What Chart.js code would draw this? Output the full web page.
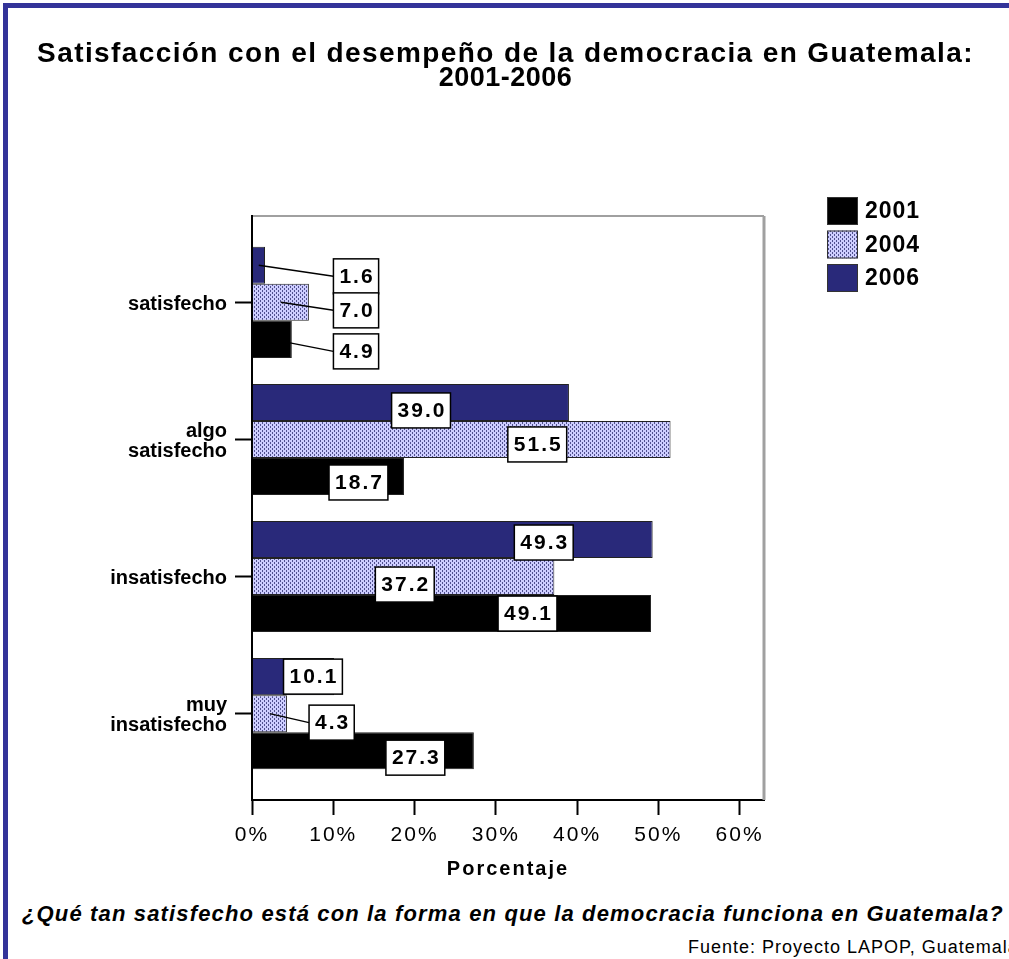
<!DOCTYPE html>
<html>
<head>
<meta charset="utf-8">
<title>Satisfacción con la democracia en Guatemala</title>
<script src="https://cdn.jsdelivr.net/npm/chart.js@4.4.1/dist/chart.umd.min.js"></script>
<style>
  html, body { margin: 0; padding: 0; background: #fff; overflow: hidden; }
  body { width: 1009px; height: 959px; position: relative; color: #000;
         font-family: "Liberation Sans", Arial, sans-serif; }
  #frame { position: absolute; left: 3px; top: 3px; width: 1030px; height: 980px;
           border-left: 5px solid #333399; border-top: 5px solid #333399; }
  #wrap { position: absolute; left: 0; top: 0; width: 1009px; height: 890px; }
  #title { position: absolute; left: 0; top: 41px; width: 1011px; text-align: center;
           font-weight: bold; font-size: 28px; line-height: 24px; }
  #title .l1 { letter-spacing: 1.4px; }
  #title .l2 { font-size: 27px; letter-spacing: 0.5px; }
  #question { position: absolute; left: 22px; top: 901px; white-space: nowrap;
              font: italic bold 22px "Liberation Sans", Arial, sans-serif; letter-spacing: 1.15px; }
  #source { position: absolute; left: 688px; top: 937px; white-space: nowrap;
            font: 18px "Liberation Sans", Arial, sans-serif; letter-spacing: 1px; }
</style>
</head>
<body>
<div id="frame"></div>
<div id="wrap"><canvas id="chart"></canvas></div>
<div id="title"><span class="l1">Satisfacción con el desempeño de la democracia en Guatemala:</span><br><span class="l2">2001-2006</span></div>
<div id="question">¿Qué tan satisfecho está con la forma en que la democracia funciona en Guatemala?</div>
<div id="source">Fuente: Proyecto LAPOP, Guatemala</div>
<script>
const categories = ['satisfecho', 'algo satisfecho', 'insatisfecho', 'muy insatisfecho'];
const years = ['2001', '2004', '2006'];
const values2001 = [4.9, 18.7, 49.1, 27.3];
const values2004 = [7.0, 51.5, 37.2, 4.3];
const values2006 = [1.6, 39.0, 49.3, 10.1];
const xTickValues = [0, 10, 20, 30, 40, 50, 60];

// where each value box sits: centre on the % axis, and a small drop in px
const labelAt2001 = [12.8, 13.1, 33.9, 20.1];
const labelAt2004 = [12.8, 35.1, 18.8, 9.8];
const labelAt2006 = [12.8, 20.8, 35.9, 7.5];
const labelDy2001 = [12, 6, 0, 7];
const labelDy2004 = [8, 5, 8, 9];
const labelDy2006 = [11, 8, 3, 0];

const FONT = '"Liberation Sans", Arial, sans-serif';
Chart.defaults.font.family = FONT;
Chart.defaults.color = '#000';

function dotPattern() {
  const tile = document.createElement('canvas');
  tile.width = 4;
  tile.height = 4;
  const t = tile.getContext('2d');
  t.fillStyle = '#cdcdff';
  t.fillRect(0, 0, 4, 4);
  t.fillStyle = '#50508e';
  t.fillRect(0, 0, 1, 2);
  t.fillRect(2, 2, 1, 2);
  return t.createPattern(tile, 'repeat');
}

const toPoints = vals => vals.map((v, i) => ({ x: v, y: i }));

// grey top/right frame of the plot; spaced text for the x axis, plain for the y labels
const plotFrame = {
  id: 'plotFrame',
  beforeDraw(chart) {
    chart.ctx.letterSpacing = '2px';
  },
  afterDatasetsDraw(chart) {
    const { ctx, chartArea: a } = chart;
    ctx.save();
    ctx.strokeStyle = '#a0a0a0';
    ctx.lineWidth = 2;
    ctx.beginPath();
    ctx.moveTo(a.left, a.top);
    ctx.lineTo(a.right, a.top);
    ctx.stroke();
    ctx.lineWidth = 3;
    ctx.beginPath();
    ctx.moveTo(a.right, a.top);
    ctx.lineTo(a.right, a.bottom);
    ctx.stroke();
    ctx.restore();
    ctx.letterSpacing = '0px';
  }
};

const valueBoxes = {
  id: 'valueBoxes',
  afterDraw(chart) {
    const ctx = chart.ctx;
    const xs = chart.scales.x;
    ctx.save();
    ctx.font = 'bold 21px ' + FONT;
    ctx.letterSpacing = '2px';
    ctx.textAlign = 'center';
    ctx.textBaseline = 'middle';
    chart.data.datasets.forEach((ds, di) => {
      chart.getDatasetMeta(di).data.forEach((bar, i) => {
        const txt = ds.data[i].x.toFixed(1);
        const w = ctx.measureText(txt).width + 10;
        const h = 35;
        const cx = xs.getPixelForValue(ds.labelAt[i]);
        const cy = bar.y + ds.labelDy[i];
        const left = cx - w / 2;
        if (left > bar.x) {
          ctx.strokeStyle = '#000';
          ctx.lineWidth = 1.5;
          ctx.beginPath();
          ctx.moveTo((bar.base + bar.x) / 2, bar.y);
          ctx.lineTo(left, cy);
          ctx.stroke();
        }
        ctx.fillStyle = '#fff';
        ctx.fillRect(left, cy - h / 2, w, h);
        ctx.strokeStyle = '#000';
        ctx.lineWidth = 1.5;
        ctx.strokeRect(left, cy - h / 2, w, h);
        ctx.fillStyle = '#000';
        ctx.fillText(txt, cx + 1, cy + 1);
      });
    });
    ctx.restore();
  }
};

const yearLegend = {
  id: 'yearLegend',
  afterDraw(chart) {
    const { ctx, chartArea: a } = chart;
    const sets = chart.data.datasets.slice().reverse();
    const x0 = a.right + 63;
    const y0 = a.top - 19;
    ctx.save();
    ctx.font = 'bold 23px ' + FONT;
    ctx.letterSpacing = '1px';
    ctx.textBaseline = 'middle';
    sets.forEach((ds, k) => {
      const y = y0 + k * 33.5;
      ctx.fillStyle = ds.backgroundColor;
      ctx.fillRect(x0, y, 31, 28);
      ctx.strokeStyle = '#333';
      ctx.lineWidth = 1;
      ctx.strokeRect(x0 + 0.5, y + 0.5, 30, 27);
      ctx.fillStyle = '#000';
      ctx.fillText(ds.label, x0 + 38, y + 15);
    });
    ctx.restore();
  }
};

new Chart(document.getElementById('chart'), {
  type: 'bar',
  data: {
    datasets: [
      { label: years[2], data: toPoints(values2006), backgroundColor: '#29297a',
        labelAt: labelAt2006, labelDy: labelDy2006 },
      { label: years[1], data: toPoints(values2004), backgroundColor: dotPattern(),
        labelAt: labelAt2004, labelDy: labelDy2004 },
      { label: years[0], data: toPoints(values2001), backgroundColor: '#000',
        labelAt: labelAt2001, labelDy: labelDy2001 }
    ]
  },
  options: {
    indexAxis: 'y',
    responsive: true,
    maintainAspectRatio: false,
    animation: false,
    layout: { padding: { left: 0, right: 245, top: 216, bottom: 0 } },
    datasets: {
      bar: { categoryPercentage: 0.81, barPercentage: 1, borderWidth: 1, borderColor: '#222' }
    },
    plugins: {
      legend: { display: false },
      tooltip: { enabled: false }
    },
    scales: {
      x: {
        type: 'linear',
        min: 0,
        max: 63,
        afterBuildTicks: s => { s.ticks = xTickValues.map(v => ({ value: v })); },
        afterFit: s => { s.height = 90; },
        ticks: { callback: v => v + '%', font: { size: 21 }, padding: 8, color: '#000', maxRotation: 0 },
        grid: { drawOnChartArea: false, tickLength: 15, tickWidth: 2, tickColor: '#000' },
        border: { color: '#000', width: 2 },
        title: { display: true, text: 'Porcentaje', font: { size: 20, weight: 'bold' },
                 color: '#000', padding: { top: 4, bottom: 9 } }
      },
      y: {
        type: 'linear',
        reverse: true,
        offset: false,
        min: -0.63,
        max: 3.63,
        afterBuildTicks: s => { s.ticks = categories.map((c, i) => ({ value: i })); },
        afterFit: s => { s.width = 252; },
        ticks: {
          z: 1,
          callback: v => categories[v].includes(' ') ? categories[v].split(' ') : categories[v],
          font: { size: 20, weight: 'bold', lineHeight: 1.0 },
          padding: 8,
          labelOffset: 2,
          color: '#000'
        },
        grid: { offset: false, drawOnChartArea: false, tickLength: 17, tickWidth: 2, tickColor: '#000' },
        border: { color: '#000', width: 2, z: 1 }
      }
    }
  },
  plugins: [plotFrame, valueBoxes, yearLegend]
});
</script>
</body>
</html>
